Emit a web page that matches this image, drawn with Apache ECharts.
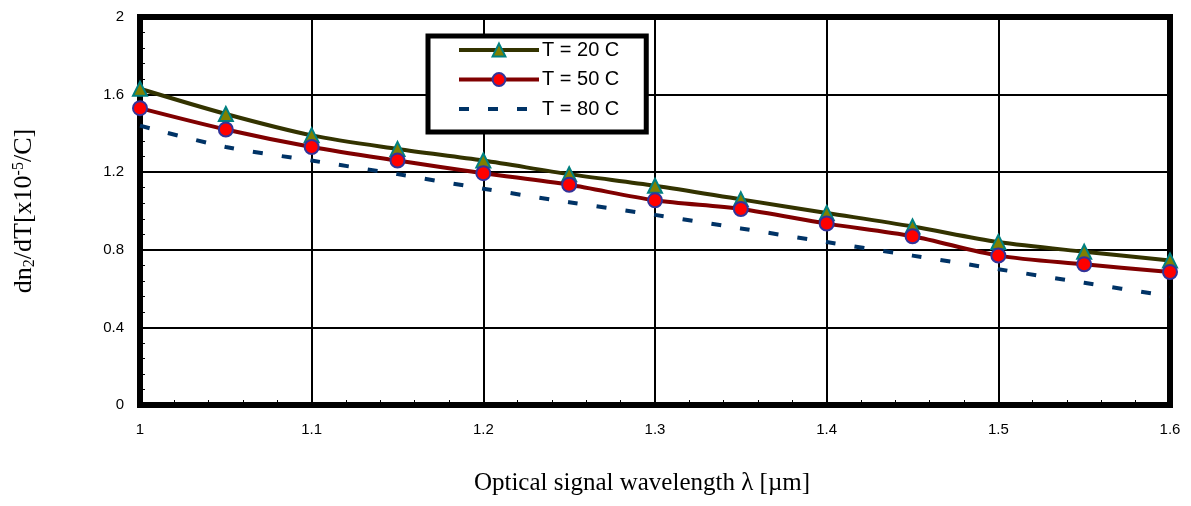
<!DOCTYPE html>
<html>
<head>
<meta charset="utf-8">
<script src="https://cdn.jsdelivr.net/npm/echarts@6/dist/echarts.min.js"></script>
<style>
  html, body { margin: 0; padding: 0; background: #fff; }
  #chart { width: 1191px; height: 506px; }
</style>
</head>
<body>
<div id="chart"></div>
<script>
// wavelength in um
const wavelength = [1, 1.05, 1.1, 1.15, 1.2, 1.25, 1.3, 1.35, 1.4, 1.45, 1.5, 1.55, 1.6]
// dn2/dT [x10^-5 /C]
const t20 = [1.63, 1.5, 1.39, 1.32, 1.26, 1.19, 1.13, 1.06, 0.99, 0.92, 0.84, 0.79, 0.745]
const t50 = [1.53, 1.42, 1.33, 1.26, 1.195, 1.135, 1.055, 1.01, 0.935, 0.87, 0.77, 0.725, 0.685]
const t80 = [1.44, 1.33, 1.26, 1.19, 1.115, 1.045, 0.98, 0.91, 0.84, 0.77, 0.7, 0.63, 0.56]

const pairs = arr => wavelength.map((x, i) => [x, arr[i]])

const myChart = echarts.init(document.getElementById('chart'))
myChart.setOption({
  animation: false,
  grid: {
    left: 139,
    right: 21,
    top: 17,
    bottom: 101,
    show: true,
    borderColor: '#000',
    borderWidth: 6
  },
  legend: {
    orient: 'vertical',
    left: 428,
    top: 36,
    padding: [4, 27, 13, 29],
    itemGap: 9.5,
    itemWidth: 80,
    itemHeight: 16,
    backgroundColor: '#fff',
    borderColor: '#000',
    borderWidth: 5,
    borderRadius: 0,
    textStyle: {
      fontFamily: 'Liberation Sans, Arial',
      fontSize: 20,
      lineHeight: 20,
      color: '#000',
      padding: [0, 0, 0, -2]
    },
    data: [
      { name: 'T = 20 C', lineStyle: { width: 4 } },
      { name: 'T = 50 C', lineStyle: { width: 4 } },
      {
        name: 'T = 80 C',
        lineStyle: { width: 4 },
        itemStyle: { color: 'rgba(0,0,0,0)', borderColor: 'rgba(0,0,0,0)' }
      }
    ]
  },
  xAxis: {
    type: 'value',
    min: 1,
    max: 1.6,
    interval: 0.1,
    name: 'Optical signal wavelength λ [µm]',
    nameLocation: 'middle',
    nameGap: 66,
    nameTextStyle: {
      fontFamily: 'Liberation Serif, Times New Roman',
      fontSize: 25,
      color: '#000',
      padding: [0, 26, 0, 0]
    },
    axisLine: { lineStyle: { color: '#000', width: 6 } },
    axisTick: { show: false, inside: true },
    minorTick: { show: true, splitNumber: 5, length: 5, lineStyle: { color: '#000', width: 1 } },
    splitLine: { show: true, lineStyle: { color: '#000', width: 2 } },
    axisLabel: {
      margin: 17,
      fontFamily: 'Liberation Sans, Arial',
      fontSize: 15,
      color: '#000'
    }
  },
  yAxis: {
    type: 'value',
    min: 0,
    max: 2,
    interval: 0.4,
    name: '{a|dn}{s|2}{a|/dT[x10}{p|-5}{a|/C]}',
    nameLocation: 'middle',
    nameRotate: 90,
    nameGap: 100,
    nameTextStyle: {
      rich: {
        a: { fontFamily: 'Liberation Serif, Times New Roman', fontSize: 26, color: '#000', lineHeight: 32, verticalAlign: 'middle' },
        s: { fontFamily: 'Liberation Serif, Times New Roman', fontSize: 16, color: '#000', lineHeight: 32, verticalAlign: 'bottom', padding: [0, 0, 2, 0] },
        p: { fontFamily: 'Liberation Serif, Times New Roman', fontSize: 16, color: '#000', lineHeight: 32, verticalAlign: 'top', padding: [3, 0, 0, 0] }
      }
    },
    axisLine: { show: true, lineStyle: { color: '#000', width: 6 } },
    axisTick: { show: false, inside: true },
    minorTick: { show: true, splitNumber: 5, length: 5, lineStyle: { color: '#000', width: 1 } },
    splitLine: { show: true, lineStyle: { color: '#000', width: 2 } },
    axisLabel: {
      margin: 16,
      fontFamily: 'Liberation Sans, Arial',
      fontSize: 15,
      color: '#000'
    }
  },
  series: [
    {
      name: 'T = 20 C',
      type: 'line',
      data: pairs(t20),
      smooth: 0.3,
      symbol: 'triangle',
      symbolSize: 14,
      lineStyle: { color: '#333300', width: 4 },
      itemStyle: { color: '#808000', borderColor: '#008080', borderWidth: 2 },
      z: 3
    },
    {
      name: 'T = 50 C',
      type: 'line',
      data: pairs(t50),
      smooth: 0.3,
      symbol: 'circle',
      symbolSize: 14,
      lineStyle: { color: '#800000', width: 4 },
      itemStyle: { color: '#ff0000', borderColor: '#333399', borderWidth: 2 },
      z: 4
    },
    {
      name: 'T = 80 C',
      type: 'line',
      data: pairs(t80),
      smooth: 0.3,
      showSymbol: false,
      symbol: 'none',
      lineStyle: { color: '#003366', width: 4, type: [10, 19] },
      itemStyle: { color: '#003366' },
      z: 2
    }
  ]
})
</script>
</body>
</html>
